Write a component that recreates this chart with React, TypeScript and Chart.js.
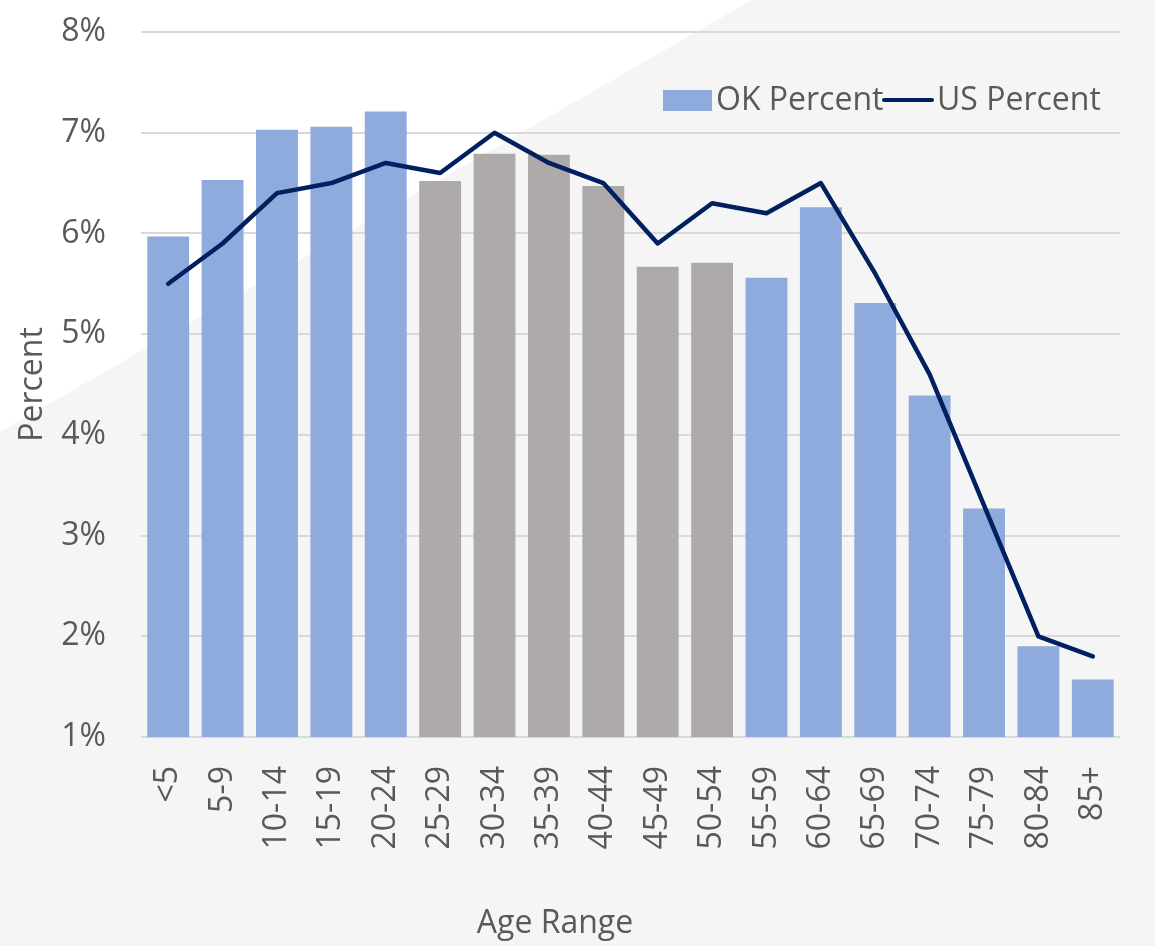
import React, { useEffect, useRef } from "react";
import { Chart, registerables } from "chart.js";

Chart.register(...registerables);

const categories = ["<5", "5-9", "10-14", "15-19", "20-24", "25-29", "30-34", "35-39", "40-44", "45-49", "50-54", "55-59", "60-64", "65-69", "70-74", "75-79", "80-84", "85+"];
const okPercent = [5.97, 6.53, 7.03, 7.06, 7.21, 6.52, 6.79, 6.78, 6.47, 5.67, 5.71, 5.56, 6.26, 5.31, 4.39, 3.27, 1.9, 1.57];
const usPercent = [5.5, 5.9, 6.4, 6.5, 6.7, 6.6, 7.0, 6.7, 6.5, 5.9, 6.3, 6.2, 6.5, 5.6, 4.6, 3.3, 2.0, 1.8];
const highlightedCategories = ["25-29", "30-34", "35-39", "40-44", "45-49", "50-54"];
const yTicks = [1, 2, 3, 4, 5, 6, 7, 8];

const BLUE = "#8faadc";
const GRAY = "#aeaaaa";
const NAVY = "#002060";
const TEXT = "#595959";
const FONT = "'Open Sans', sans-serif";

const W = 1155;
const H = 946;

const backgroundPlugin = {
  id: "bgDecor",
  beforeDraw(chart: any) {
    const ctx = chart.ctx;
    ctx.save();
    ctx.fillStyle = "#f5f5f5";
    ctx.fillRect(0, 0, chart.width, chart.height);
    ctx.fillStyle = "#ffffff";
    ctx.beginPath();
    ctx.moveTo(0, 0);
    ctx.lineTo(752, 0);
    ctx.lineTo(0, 432);
    ctx.closePath();
    ctx.fill();
    ctx.restore();
  },
  afterDraw(chart: any) {
    const ctx = chart.ctx;
    ctx.save();
    ctx.font = `32px ${FONT}`;
    ctx.fillStyle = TEXT;
    ctx.textBaseline = "middle";
    // legend
    const ly = 100;
    ctx.fillStyle = BLUE;
    ctx.fillRect(663, 90, 49, 21);
    ctx.fillStyle = TEXT;
    ctx.textAlign = "left";
    ctx.fillText("OK Percent", 716, ly + 1);
    ctx.strokeStyle = NAVY;
    ctx.lineWidth = 4;
    ctx.lineCap = "round";
    ctx.beginPath();
    ctx.moveTo(884, ly);
    ctx.lineTo(932, ly);
    ctx.stroke();
    ctx.fillText("US Percent", 937, ly + 1);
    // x axis title
    ctx.textAlign = "center";
    ctx.fillText("Age Range", 555, 924);
    ctx.restore();
  },
};

export default function App() {
  const ref = useRef<HTMLCanvasElement | null>(null);
  useEffect(() => {
    let chart: Chart | null = null;
    let cancelled = false;
    const make = () => {
      if (cancelled || !ref.current) return;
      chart = new Chart(ref.current, {
        type: "bar",
        data: {
          labels: categories,
          datasets: [
            {
              type: "line",
              label: "US Percent",
              data: usPercent,
              borderColor: NAVY,
              backgroundColor: NAVY,
              borderWidth: 4.5,
              pointRadius: 0,
              tension: 0,
              borderCapStyle: "round",
              borderJoinStyle: "round",
              order: 0,
            } as any,
            {
              type: "bar",
              label: "OK Percent",
              data: okPercent,
              backgroundColor: categories.map((c) => (highlightedCategories.includes(c) ? GRAY : BLUE)),
              borderWidth: 0,
              barPercentage: 0.77,
              categoryPercentage: 1,
              order: 1,
            } as any,
          ],
        },
        options: {
          responsive: false,
          animation: false,
          layout: { padding: { top: 32, right: 35, left: 0, bottom: 0 } },
          plugins: {
            legend: { display: false },
            tooltip: { enabled: false },
          },
          scales: {
            x: {
              grid: { display: false },
              border: { display: false },
              ticks: {
                minRotation: 90,
                maxRotation: 90,
                autoSkip: false,
                padding: 21,
                color: TEXT,
                font: { family: FONT, size: 32 },
              },
              afterFit(scale: any) {
                scale.height = 209;
                scale.paddingLeft = 0;
                scale.paddingRight = 0;
              },
            },
            y: {
              min: 1,
              max: 8,
              afterBuildTicks(scale: any) {
                scale.ticks = yTicks.map((v) => ({ value: v }));
              },
              grid: { color: "#d9d9d9", lineWidth: 2, drawTicks: false },
              border: { display: false },
              ticks: {
                padding: 35,
                color: TEXT,
                font: { family: FONT, size: 32 },
                callback: (v: any) => `${v}%`,
              },
              title: {
                display: true,
                text: "Percent",
                color: TEXT,
                font: { family: FONT, size: 32 },
                padding: { top: 14, bottom: 0 },
              },
              afterFit(scale: any) {
                scale.width = 141;
                scale.paddingTop = 0;
                scale.paddingBottom = 0;
              },
            },
          },
        },
        plugins: [backgroundPlugin],
      });
    };
    const fontsReady = (document as any).fonts
      ? Promise.all([(document as any).fonts.load(`32px "Open Sans"`)]).catch(() => null)
      : Promise.resolve();
    fontsReady.then(make);
    return () => {
      cancelled = true;
      if (chart) chart.destroy();
    };
  }, []);
  return (
    <div style={{ position: "absolute", left: 0, top: 0, width: W, height: H }}>
      <canvas ref={ref} width={W} height={H} style={{ display: "block", width: W, height: H }} />
    </div>
  );
}
